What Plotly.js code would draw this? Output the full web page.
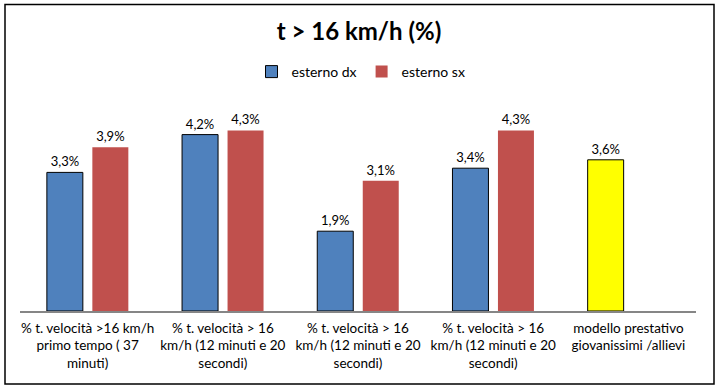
<!DOCTYPE html>
<html>
<head>
<meta charset="utf-8">
<script src="https://cdn.plot.ly/plotly-3.0.1.min.js"></script>
<style>
  html, body { margin: 0; padding: 0; background: #ffffff; }
  #chart { width: 718px; height: 389px; }
</style>
</head>
<body>
<div id="chart"></div>
<script>
// ---- data ----
var categoryLabels = [
  "% t. velocità >16 km/h<br>primo tempo ( 37<br>minuti)",
  "% t. velocità > 16<br>km/h (12 minuti e 20<br>secondi)",
  "% t. velocità > 16<br>km/h (12 minuti e 20<br>secondi)",
  "% t. velocità > 16<br>km/h (12 minuti e 20<br>secondi)",
  "modello prestativo<br>giovanissimi /allievi"
];
var esternoDx = [3.3, 4.2, 1.9, 3.4];
var esternoSx = [3.9, 4.3, 3.1, 4.3];
var modello = [3.6];
var seriesNames = ["esterno dx", "esterno sx"];
var chartTitle = "t > 16 km/h (%)";

// ---- build traces ----
var xPos = categoryLabels.map(function (_, i) { return i; });
function fmt(v) { return v == null ? "" : v.toFixed(1).replace(".", ",") + "%"; }

var blueY = esternoDx.concat(modello);
var blueColors = esternoDx.map(function () { return "#4F81BD"; }).concat(modello.map(function () { return "#FFFF00"; }));
var redY = esternoSx.concat([null]);

var FONT = "Lato, 'Liberation Sans', Arial, sans-serif";

var traceDx = {
  type: "bar",
  name: seriesNames[0],
  x: xPos,
  y: blueY,
  text: blueY.map(fmt),
  textposition: "outside",
  textfont: { family: FONT, size: 13, color: "#000000" },
  cliponaxis: false,
  marker: { color: blueColors, line: { color: "#000000", width: 1 } },
  hoverinfo: "none"
};
var traceSx = {
  type: "bar",
  name: seriesNames[1],
  x: xPos,
  y: redY,
  text: redY.map(fmt),
  textposition: "outside",
  textfont: { family: FONT, size: 13, color: "#000000" },
  cliponaxis: false,
  marker: { color: "#C0504D", line: { width: 0 } },
  hoverinfo: "none"
};

var plotL = 20, plotR = 696, plotT = 101, plotB = 311, W = 718, H = 389;
function px2x(p) { return (p - plotL) / (plotR - plotL); }
function py2y(p) { return (plotB - p) / (plotB - plotT); }

var layout = {
  width: W,
  height: H,
  margin: { l: plotL, r: W - plotR, t: plotT, b: H - plotB, pad: 0 },
  paper_bgcolor: "#ffffff",
  plot_bgcolor: "#ffffff",
  barmode: "group",
  bargap: 0.327,
  bargroupgap: 0.209,
  title: {
    text: "<b>" + chartTitle + "</b>",
    font: { family: FONT, size: 24, color: "#000000" },
    x: 0.5, xanchor: "center",
    y: 1 - 32 / H, yanchor: "middle"
  },
  showlegend: true,
  legend: {
    orientation: "h",
    x: px2x(361), xanchor: "center",
    y: py2y(72), yanchor: "middle",
    font: { family: FONT, size: 14, color: "#000000" },
    itemwidth: 30,
    traceorder: "normal",
    bgcolor: "rgba(0,0,0,0)"
  },
  xaxis: {
    type: "linear",
    range: [-0.5, 4.5],
    tickmode: "array",
    tickvals: xPos,
    ticktext: categoryLabels,
    tickangle: 0,
    ticks: "",
    ticklabelstandoff: 4,
    showgrid: false,
    zeroline: false,
    showline: true,
    linecolor: "#868686",
    linewidth: 1.5,
    tickfont: { family: FONT, size: 13.5, color: "#000000" },
    automargin: false,
    fixedrange: true
  },
  yaxis: {
    range: [0, 5],
    visible: false,
    showgrid: false,
    zeroline: false,
    fixedrange: true
  },
  shapes: [{
    type: "rect",
    xref: "paper", yref: "paper",
    x0: px2x(5), x1: px2x(714),
    y0: py2y(384), y1: py2y(4.5),
    line: { color: "#000000", width: 1.5 },
    fillcolor: "rgba(0,0,0,0)",
    layer: "above"
  }]
};

Plotly.newPlot("chart", [traceDx, traceSx], layout, { displayModeBar: false, staticPlot: true });
</script>
</body>
</html>
